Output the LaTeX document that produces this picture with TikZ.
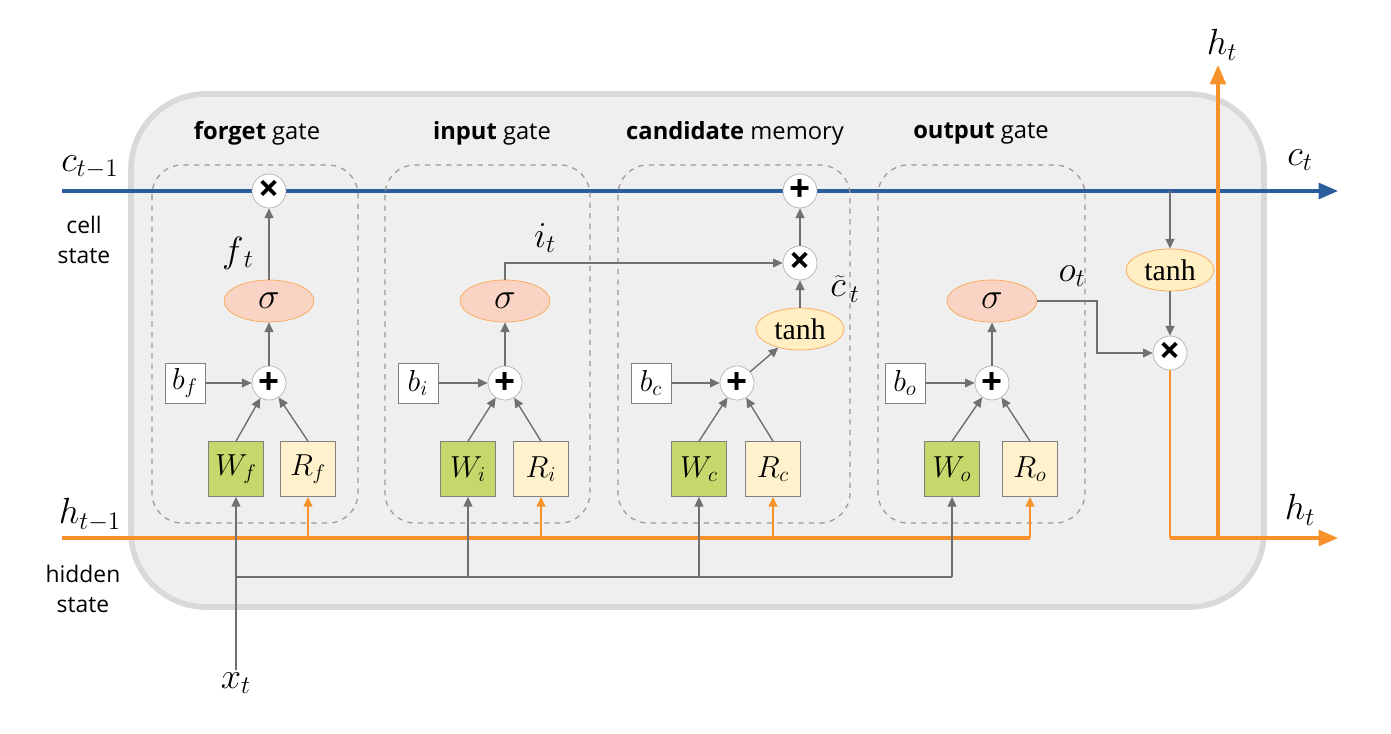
\documentclass[tikz,border=0pt]{standalone}
\usepackage{fontspec}
\setmainfont{Liberation Serif}
\newfontfamily\gatefont{Open Sans}
\usetikzlibrary{arrows.meta,positioning,shapes.geometric}
\definecolor{cellblue}{HTML}{2B5C9B}
\definecolor{hidorange}{HTML}{F7922B}
\definecolor{wgreen}{HTML}{C5D86B}
\definecolor{rcream}{HTML}{FFF1CC}
\definecolor{sigfill}{HTML}{F9D4C4}
\definecolor{tanhfill}{HTML}{FFEFC2}
\definecolor{cellbg}{HTML}{EFEFEF}
\definecolor{cellrim}{HTML}{D9D9D9}
\definecolor{wiregray}{HTML}{707070}

\begin{document}
\begin{tikzpicture}[x=0.02cm,y=-0.02cm,font=\fontsize{17}{20}\selectfont,
  op/.style={circle,draw=gray!60,fill=white,minimum size=0.68cm,inner sep=0pt,font=\gatefont\bfseries\fontsize{21}{21}\selectfont},
  sig/.style={ellipse,draw=hidorange!80,fill=sigfill,minimum width=1.8cm,minimum height=0.84cm,inner sep=0pt,font=\fontsize{20}{20}\selectfont},
  act/.style={ellipse,draw=hidorange!80,fill=tanhfill,minimum width=1.76cm,minimum height=0.84cm,inner sep=0pt},
  wbox/.style={draw=gray,fill=wgreen,minimum size=1.1cm,inner sep=0pt},
  rbox/.style={draw=gray,fill=rcream,minimum size=1.1cm,inner sep=0pt},
  bbox/.style={draw=gray,fill=white,minimum size=0.8cm,inner sep=0pt},
  gatebox/.style={draw=gray!80,dashed,line width=0.7pt,rounded corners=0.6cm},
  wire/.style={draw=wiregray,line width=0.8pt,-{Triangle[length=5.5pt,width=5pt]}},
  bus/.style={draw=wiregray,line width=0.8pt},
  cellline/.style={draw=cellblue,line width=1.8pt},
  hidline/.style={draw=hidorange,line width=1.8pt},
  biglbl/.style={font=\fontsize{20}{22}\selectfont,inner sep=1pt},
  title/.style={font=\gatefont\fontsize{13.5}{15}\selectfont},
  side/.style={font=\gatefont\fontsize{13}{17}\selectfont,align=center}]
\useasboundingbox (0,0) rectangle (1391,733);
\fill[white] (0,0) rectangle (1391,733);
\draw[cellrim,fill=cellbg,line width=3.2pt,rounded corners=1.5cm] (131,94) rectangle (1264,607);

\coordinate (cin) at (62,191);
\coordinate (cout) at (1338,191);
\coordinate (hin) at (62,538);
\coordinate (hout) at (1338,538);
\coordinate (hup) at (1218,65);
\coordinate (xbus) at (0,577);

\draw[cellline,-{Triangle[length=11pt,width=9pt]}] (cin) -- (cout);

\foreach \g/\bl/\br/\tx/\px/\bx/\wx/\rx/\bold/\rest in
  {f/152/358/257/269/185/236/308/forget/gate, i/385/590/492/505/418/468/541/input/gate,
   c/618/850/735/737/651/699/773/candidate/memory, o/878/1085/981/992/905/952/1030/output/gate}{
  \draw[gatebox] (\bl,165) rectangle (\br,523);
  \node[title] at (\tx,133) {\textbf{\bold} \rest};
  \node[op] (plus-\g) at (\px,383) {+};
  \node[bbox] (b-\g) at (\bx,383) {$b_{\g}$};
  \node[wbox] (W-\g) at (\wx,469) {$W_{\g}$};
  \node[rbox] (R-\g) at (\rx,469) {$R_{\g}$};
  \draw[wire] (b-\g) -- (plus-\g);
  \draw[wire] (W-\g.north) -- (plus-\g);
  \draw[wire] (R-\g.north) -- (plus-\g);
}

\node[op] (fx) at (269,191) {×};
\node[sig] (fs) at (269,301) {$\sigma$};
\node[biglbl] at (238,253) {$f_{\,t}$};
\draw[wire] (plus-f) -- (fs);
\draw[wire] (fs) -- (fx);

\node[sig] (is) at (505,301) {$\sigma$};
\node[biglbl] at (545,238) {$i_t$};
\draw[wire] (plus-i) -- (is);

\node[op] (cp) at (800,191) {+};
\node[op] (cx) at (800,263) {×};
\node[act] (ct) at (800,329) {tanh};
\node[biglbl] at (845,289) {$\widetilde{c}_{\,t}$};
\draw[wire] (plus-c) -- (ct);
\draw[wire] (ct) -- (cx);
\draw[wire] (cx) -- (cp);
\draw[wire] (is.north) |- (cx);

\node[sig] (os) at (992,301) {$\sigma$};
\node[biglbl] at (1072,276) {$o_t$};
\draw[wire] (plus-o) -- (os);

\node[act] (ht) at (1170,270) {tanh};
\node[op] (hx) at (1170,353) {×};
\draw[wire] (ht |- cin) -- (ht);
\draw[wire] (ht) -- (hx);
\draw[wire] (os.east) -- (1097,301) |- (hx);

\draw[hidline] (hin) -- (R-o |- hin);
\foreach \g in {f,i,c,o}
  \draw[draw=hidorange,line width=0.9pt,-{Triangle[length=5.5pt,width=5pt]}] (R-\g |- hin) -- (R-\g);

\node[biglbl] (xt) at (236,683) {$x_t$};
\draw[bus] (W-f |- xbus) -- (W-o |- xbus);
\draw[wire] (xt.north) -- (W-f);
\foreach \g in {i,c,o}
  \draw[wire] (W-\g |- xbus) -- (W-\g);

\draw[draw=hidorange,line width=1pt] (hx.south) -- (hx |- hout);
\draw[hidline,-{Triangle[length=11pt,width=9pt]}] (hx |- hout) -- (hout);
\draw[hidline,-{Triangle[length=11pt,width=9pt]}] (hup |- hout) -- (hup);

\node[biglbl] at (90,167) {$c_{t-1}$};
\node[side] at (84,240) {cell\\state};
\node[biglbl] at (90,515) {$h_{t-1}$};
\node[side] at (83,589) {hidden\\state};
\node[biglbl] at (1222,45) {$h_t$};
\node[biglbl] at (1300,160) {$c_t$};
\node[biglbl] at (1300,510) {$h_t$};
\end{tikzpicture}
\end{document}
